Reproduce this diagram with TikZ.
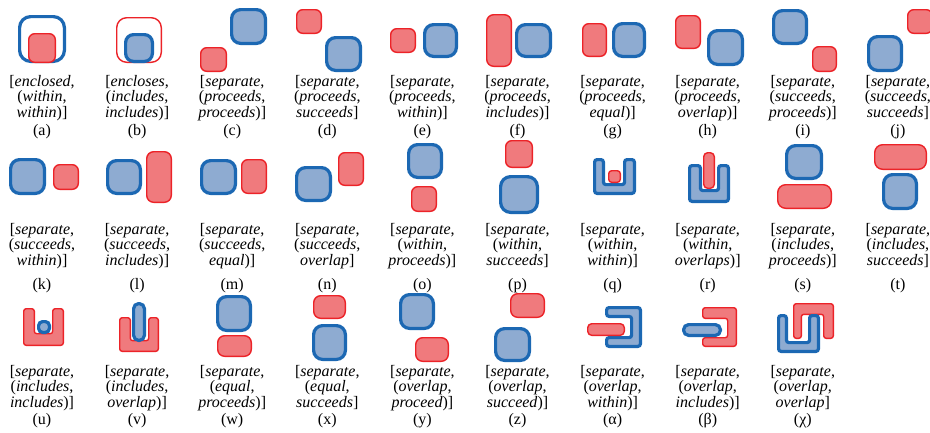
\documentclass[tikz,border=0pt]{standalone}
\usepackage{fontspec}
\setmainfont{Liberation Serif}
\definecolor{bfill}{HTML}{8EABD1}
\definecolor{bline}{HTML}{1C68B3}
\definecolor{rfill}{HTML}{F07A7D}
\definecolor{rline}{HTML}{EC2328}
\tikzset{
  bshape/.style={draw=bline, fill=bfill, line width=3.2pt},
  rshape/.style={draw=rline, fill=rfill, line width=1.4pt},
  txt/.style={anchor=base, inner sep=0pt, font=\fontsize{16}{16}\selectfont},
}
% rounded boxes given by outer bounds
\newcommand\BB[5][9]{\draw[bshape, rounded corners=#1pt] ({#2+1.6},{#3+1.6}) rectangle ({#4-1.6},{#5-1.6});}
\newcommand\RB[5][6]{\draw[rshape, rounded corners=#1pt] ({#2+0.7},{#3+0.7}) rectangle ({#4-0.7},{#5-0.7});}
% U open upwards: style, half width, x1,y1,x2,y2, gx1,gx2, gy
\newcommand\Uup[9]{\draw[#1, rounded corners=2.5pt] ({#3+#2},{#4+#2}) -- ({#3+#2},{#6-#2}) -- ({#5-#2},{#6-#2}) -- ({#5-#2},{#4+#2}) -- ({#8+#2},{#4+#2}) -- ({#8+#2},{#9+#2}) -- ({#7-#2},{#9+#2}) -- ({#7-#2},{#4+#2}) -- cycle;}
% U open downwards
\newcommand\Udown[9]{\draw[#1, rounded corners=2.5pt] ({#3+#2},{#6-#2}) -- ({#3+#2},{#4+#2}) -- ({#5-#2},{#4+#2}) -- ({#5-#2},{#6-#2}) -- ({#8+#2},{#6-#2}) -- ({#8+#2},{#9-#2}) -- ({#7-#2},{#9-#2}) -- ({#7-#2},{#6-#2}) -- cycle;}
% U open to the left: style, hw, x1,y1,x2,y2, gy1,gy2, gx
\newcommand\Uleft[9]{\draw[#1, rounded corners=2.5pt] ({#3+#2},{#4+#2}) -- ({#5-#2},{#4+#2}) -- ({#5-#2},{#6-#2}) -- ({#3+#2},{#6-#2}) -- ({#3+#2},{#8+#2}) -- ({#9+#2},{#8+#2}) -- ({#9+#2},{#7-#2}) -- ({#3+#2},{#7-#2}) -- cycle;}
% label block: id, x, y(first baseline), y(caption), l1, l2, l3, caption
\newcommand\lbl[8]{%
  \node[txt] (#1l1) at (#2,#3) {#5};
  \node[txt] (#1l2) at (#2,{#3+15.7}) {#6};
  \node[txt] (#1l3) at (#2,{#3+31.4}) {#7};
  \node[txt] (#1c) at (#2,#4) {#8};}
\begin{document}
\begin{tikzpicture}[x=1pt,y=-1pt]
\useasboundingbox (0,0) rectangle (930,432);
\fill[white] (0,0) rectangle (930,432);
% ---------- row 1 ----------
\draw[draw=bline, line width=3.2pt, rounded corners=11pt] (19.6,16.6) rectangle (64.4,61.4);
\RB{28}{33}{56}{63}
\draw[draw=rline, line width=1.4pt, rounded corners=10pt] (116.7,17.7) rectangle (161.3,62.3);
\BB[8]{124}{33}{154}{63}
\RB{200}{47}{227}{72} \BB{230}{8}{267}{45}
\RB{296}{9}{322}{34} \BB{325}{36}{362}{72}
\RB{390}{28}{416}{53} \BB{423}{23}{458}{58}
\RB[7]{486}{14}{512}{67} \BB{515}{23}{552}{58}
\RB{582}{23}{607}{57} \BB{612}{22}{646}{58}
\RB{675}{15}{701}{49} \BB{707}{29}{744}{66}
\BB{772}{9}{808}{45} \RB{812}{46}{837}{72}
\RB{907}{9}{933}{34} \BB{867}{35}{903}{72}
% ---------- row 2 ----------
\BB{9}{158}{46}{195} \RB{53}{164}{79}{190}
\BB{106}{159}{142}{195} \RB[7]{146}{151}{172}{203}
\BB{200}{159}{237}{195} \RB{241}{159}{267}{194}
\BB{295}{166}{332}{202} \RB{338}{152}{364}{186}
\BB{407}{143}{443}{179} \RB{411}{186}{437}{212}
\RB{505}{140}{533}{168} \BB[10]{499}{175}{539}{214}
\Uup{bshape}{1.6}{593}{158}{636}{195}{605}{623}{183} \RB[3]{608}{170}{621}{183}
\RB[4]{703}{152}{715}{189} \Uup{bshape}{1.6}{688}{164}{730}{203}{702}{717}{189}
\BB{785}{144}{823}{180} \RB[8]{777}{184}{832}{209}
\RB[8]{874}{144}{927}{170} \BB{882}{173}{918}{210}
% ---------- row 3 ----------
\Uup{rshape}{0.7}{23}{308}{64}{346}{35}{52}{333} \BB[4]{37}{320}{51}{334}
\Uup{rshape}{0.7}{119}{317}{159}{352}{131}{148}{340} \BB[5]{132}{302}{146}{342}
\BB{216}{295}{252}{332} \RB[7]{217}{335}{252}{357}
\RB[7]{313}{295}{346}{319} \BB{312}{324}{347}{361}
\BB{399}{293}{435}{330} \RB[7]{415}{337}{449}{362}
\RB[7]{510}{293}{545}{318} \BB{494}{327}{531}{362}
\Uleft{bshape}{1.6}{605}{306}{642}{348}{318}{336}{630} \RB[4]{587}{323}{625}{336}
\Uleft{rshape}{0.7}{702}{307}{737}{347}{319}{337}{727} \BB[5]{682}{323}{722}{337}
\Udown{rshape}{0.7}{793}{303}{834}{339}{802}{823}{315}
\Uup{bshape}{1.6}{777}{314}{820}{353}{788}{808}{341}
% ---------- labels row 1 ----------
\lbl{a}{42}{86}{135}{[\textit{enclosed},}{(\textit{within},}{\textit{within})]}{(a)}
\lbl{b}{137.1}{86}{135}{[\textit{encloses},}{(\textit{includes},}{\textit{includes})]}{(b)}
\lbl{c}{232.2}{86}{135}{[\textit{separate},}{(\textit{proceeds},}{\textit{proceeds})]}{(c)}
\lbl{d}{327.3}{86}{135}{[\textit{separate},}{(\textit{proceeds},}{\textit{succeeds}]}{(d)}
\lbl{e}{422.4}{86}{135}{[\textit{separate},}{(\textit{proceeds},}{\textit{within})]}{(e)}
\lbl{f}{517.5}{86}{135}{[\textit{separate},}{(\textit{proceeds},}{\textit{includes})]}{(f)}
\lbl{g}{612.6}{86}{135}{[\textit{separate},}{(\textit{proceeds},}{\textit{equal})]}{(g)}
\lbl{h}{707.7}{86}{135}{[\textit{separate},}{(\textit{proceeds},}{\textit{overlap})]}{(h)}
\lbl{i}{802.8}{86}{135}{[\textit{separate},}{(\textit{succeeds},}{\textit{proceeds})]}{(i)}
\lbl{j}{897.9}{86}{135}{[\textit{separate},}{(\textit{succeeds},}{\textit{succeeds}]}{(j)}
% ---------- labels row 2 ----------
\lbl{k}{42}{234}{289}{[\textit{separate},}{(\textit{succeeds},}{\textit{within})]}{(k)}
\lbl{l}{137.1}{234}{289}{[\textit{separate},}{(\textit{succeeds},}{\textit{includes})]}{(l)}
\lbl{m}{232.2}{234}{289}{[\textit{separate},}{(\textit{succeeds},}{\textit{equal})]}{(m)}
\lbl{n}{327.3}{234}{289}{[\textit{separate},}{(\textit{succeeds},}{\textit{overlap}]}{(n)}
\lbl{o}{422.4}{234}{289}{[\textit{separate},}{(\textit{within},}{\textit{proceeds})]}{(o)}
\lbl{p}{517.5}{234}{289}{[\textit{separate},}{(\textit{within},}{\textit{succeeds}]}{(p)}
\lbl{q}{612.6}{234}{289}{[\textit{separate},}{(\textit{within},}{\textit{within})]}{(q)}
\lbl{r}{707.7}{234}{289}{[\textit{separate},}{(\textit{within},}{\textit{overlaps})]}{(r)}
\lbl{s}{802.8}{234}{289}{[\textit{separate},}{(\textit{includes},}{\textit{proceeds})]}{(s)}
\lbl{t}{897.9}{234}{289}{[\textit{separate},}{(\textit{includes},}{\textit{succeeds}]}{(t)}
% ---------- labels row 3 ----------
\lbl{u}{42}{376}{424}{[\textit{separate},}{(\textit{includes},}{\textit{includes})]}{(u)}
\lbl{v}{137.1}{376}{424}{[\textit{separate},}{(\textit{includes},}{\textit{overlap})]}{(v)}
\lbl{w}{232.2}{376}{424}{[\textit{separate},}{(\textit{equal},}{\textit{proceeds})]}{(w)}
\lbl{x}{327.3}{376}{424}{[\textit{separate},}{(\textit{equal},}{\textit{succeeds}]}{(x)}
\lbl{y}{422.4}{376}{424}{[\textit{separate},}{(\textit{overlap},}{\textit{proceed})]}{(y)}
\lbl{z}{517.5}{376}{424}{[\textit{separate},}{(\textit{overlap},}{\textit{succeed})]}{(z)}
\lbl{alpha}{612.6}{376}{424}{[\textit{separate},}{(\textit{overlap},}{\textit{within})]}{(α)}
\lbl{beta}{707.7}{376}{424}{[\textit{separate},}{(\textit{overlap},}{\textit{includes})]}{(β)}
\lbl{chi}{802.8}{376}{424}{[\textit{separate},}{(\textit{overlap},}{\textit{overlap}]}{(χ)}
\end{tikzpicture}
\end{document}
